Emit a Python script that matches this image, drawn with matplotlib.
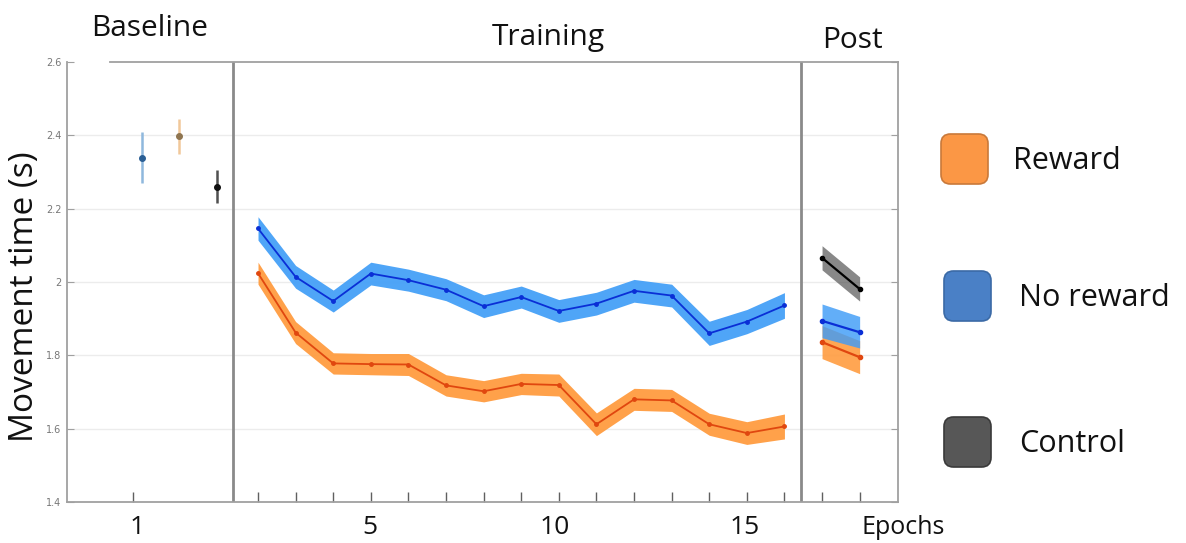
import matplotlib
matplotlib.use("Agg")
import matplotlib.pyplot as plt
from matplotlib.patches import FancyBboxPatch
import numpy as np

# ---------------- data ----------------
train_epochs = [2, 3, 4, 5, 6, 7, 8, 9, 10, 11, 12, 13, 14, 15, 16]
noreward_train = [2.146, 2.014, 1.948, 2.023, 2.005, 1.979, 1.934, 1.959,
                  1.921, 1.941, 1.976, 1.963, 1.860, 1.892, 1.936]
noreward_train_err = [0.032, 0.031, 0.030, 0.031, 0.030, 0.030, 0.031, 0.030,
                      0.031, 0.031, 0.031, 0.031, 0.033, 0.033, 0.035]
reward_train = [2.024, 1.862, 1.778, 1.776, 1.775, 1.718, 1.702, 1.722,
                1.719, 1.612, 1.680, 1.677, 1.612, 1.588, 1.606]
reward_train_err = [0.030, 0.030, 0.029, 0.029, 0.030, 0.029, 0.029, 0.029,
                    0.030, 0.031, 0.030, 0.030, 0.030, 0.031, 0.034]

post_epochs = [17, 18]
control_post = [2.066, 1.981]
control_post_err = [0.033, 0.033]
noreward_post = [1.894, 1.863]
noreward_post_err = [0.046, 0.043]
reward_post = [1.836, 1.795]
reward_post_err = [0.045, 0.045]

baseline_x = [-1.09, -0.10, 0.91]
baseline_vals = [2.339, 2.397, 2.260]          # no reward, reward, control
baseline_err = [0.070, 0.047, 0.045]

y_ticks = [1.4, 1.6, 1.8, 2.0, 2.2, 2.4, 2.6]
y_tick_labels = ["1.4", "1.6", "1.8", "2", "2.2", "2.4", "2.6"]
x_tick_pos = [-1.32] + train_epochs + post_epochs
bottom_labels = ["1", "5", "10", "15", "Epochs"]
section_labels = ["Baseline", "Training", "Post"]
legend_labels = ["Reward", "No reward", "Control"]

# ---------------- style ----------------
FONT = ["Open Sans", "DejaVu Sans"]
blue_band = "#45a0f7"
blue_line = "#0a2fd6"
orange_band = "#ff9c40"
orange_line = "#e0470f"
gray_band = "#5a5a5a"

fig = plt.figure(figsize=(11.86, 5.43), dpi=100)
ax = fig.add_axes([67 / 1186, 1 - 502 / 543, 831 / 1186, 440 / 543])
ax.set_xlim(-3.08, 19.02)
ax.set_ylim(1.4, 2.6)

frame_col = "#a0a0a0"
for s in ["left", "right", "bottom"]:
    ax.spines[s].set_color(frame_col)
    ax.spines[s].set_linewidth(1.3)
ax.spines["top"].set_visible(False)
ax.plot([0.052, 1.0], [1.0, 1.0], transform=ax.transAxes, color=frame_col,
        lw=1.3, clip_on=False)

# grid
for yv in y_ticks[1:-1]:
    ax.axhline(yv, color="#ececec", lw=1.0, zorder=0)

ax.set_yticks(y_ticks)
ax.set_yticklabels(y_tick_labels, fontsize=7, color="#777777")
ax.tick_params(axis="y", direction="in", length=5, color=frame_col,
               right=True, left=True, pad=4)
ax.set_xticks(x_tick_pos)
ax.set_xticklabels([])
ax.tick_params(axis="x", direction="in", length=7, color="#606060", width=1.0)

# section dividers
for xv in [1.335, 16.45]:
    ax.axvline(xv, color="#8a8a8a", lw=2.0, zorder=1)

# baseline error bars
bl_bar_cols = ["#8fb8dd", "#f1c89a", "#505050"]
bl_mk_cols = ["#2b5f95", "#8f7550", "#111111"]
for xv, yv, ev, bc, mc in zip(baseline_x, baseline_vals, baseline_err,
                              bl_bar_cols, bl_mk_cols):
    ax.errorbar([xv], [yv], yerr=[ev], fmt="o", ms=4, color=mc, ecolor=bc,
                elinewidth=1.8, capsize=0, zorder=3)

# training bands & lines
te = np.array(train_epochs)
nr = np.array(noreward_train); nre = np.array(noreward_train_err)
rw = np.array(reward_train); rwe = np.array(reward_train_err)
ax.fill_between(te, nr - nre, nr + nre, color=blue_band, lw=0, alpha=0.95, zorder=2)
ax.plot(te, nr, color=blue_line, lw=1.3, marker="o", ms=2.5, zorder=3)
ax.fill_between(te, rw - rwe, rw + rwe, color=orange_band, lw=0, alpha=0.95, zorder=2)
ax.plot(te, rw, color=orange_line, lw=1.3, marker="o", ms=2.5, zorder=3)

# post bands & lines
pe = np.array(post_epochs)
cp = np.array(control_post); cpe = np.array(control_post_err)
npo = np.array(noreward_post); npe = np.array(noreward_post_err)
rp = np.array(reward_post); rpe = np.array(reward_post_err)
ax.fill_between(pe, cp - cpe, cp + cpe, color=gray_band, lw=0, alpha=0.72, zorder=2)
ax.plot(pe, cp, color="black", lw=1.6, marker="o", ms=3, zorder=3)
ax.fill_between(pe, rp - rpe, rp + rpe, color=orange_band, lw=0, alpha=0.9, zorder=2)
ax.fill_between(pe, npo - npe, npo + npe, color="#3f9cf7", lw=0, alpha=0.82, zorder=2)
ax.plot(pe, npo, color=blue_line, lw=1.6, marker="o", ms=3, zorder=3)
ax.plot(pe, rp, color=orange_line, lw=1.6, marker="o", ms=3, zorder=3)

# y label
fig.text(25 / 1186, 1 - 297 / 543, "Movement time (s)", rotation=90,
         ha="center", va="center", fontsize=24, family=FONT, color="#111111")

# section titles
fig.text(150 / 1186, 1 - 28 / 543, section_labels[0], ha="center", va="center",
         fontsize=21.5, family=FONT, color="#111111")
fig.text(548 / 1186, 1 - 37 / 543, section_labels[1], ha="center", va="center",
         fontsize=21.5, family=FONT, color="#111111")
fig.text(852 / 1186, 1 - 40 / 543, section_labels[2], ha="center", va="center",
         fontsize=21.5, family=FONT, color="#111111")

# bottom labels
bx = [137, 370, 555, 745, 903]
for xv, lab in zip(bx, bottom_labels):
    fig.text(xv / 1186, 1 - 527 / 543, lab, ha="center", va="center",
             fontsize=19 if lab != "Epochs" else 18, family=FONT, color="#111111")

# legend
leg_cols = [("#fb9745", "#c9793a"), ("#4a80c6", "#3b6aa6"), ("#575757", "#3a3a3a")]
leg_y = [159, 296, 442]
leg_x = [941, 944, 944]
txt_x = [1013, 1019, 1019]
for (fc, ec), yc, xl, tx, lab in zip(leg_cols, leg_y, leg_x, txt_x, legend_labels):
    w, h = 47, 50
    p = FancyBboxPatch(((xl) / 1186, 1 - (yc + h / 2) / 543), w / 1186, h / 543,
                       boxstyle="round,pad=0,rounding_size=0.008",
                       transform=fig.transFigure, facecolor=fc, edgecolor=ec,
                       lw=1.2, mutation_aspect=1186 / 543)
    fig.patches.append(p)
    fig.text(tx / 1186, 1 - (yc + 2) / 543, lab, ha="left", va="center",
             fontsize=22, family=FONT, color="#111111")

fig.savefig("out.png", dpi=100)
